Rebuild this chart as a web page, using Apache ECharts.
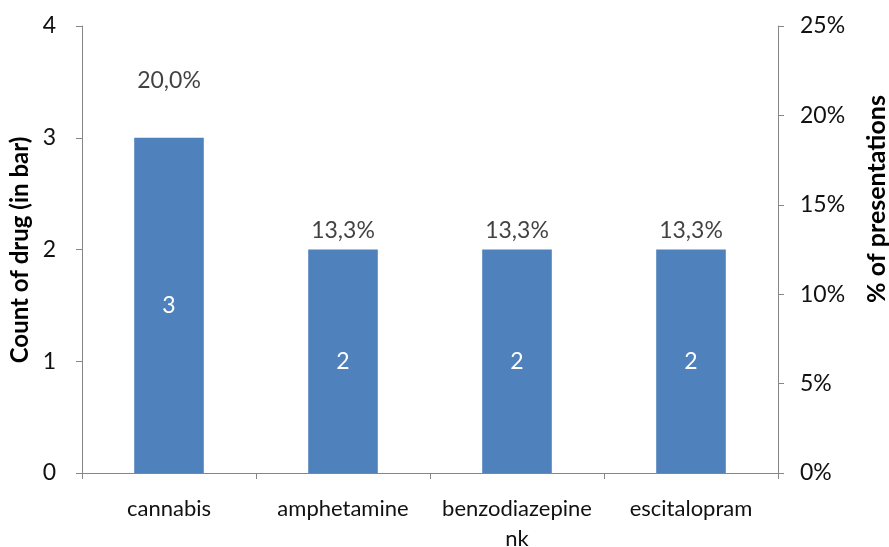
<!DOCTYPE html>
<html>
<head>
<meta charset="utf-8">
<script src="https://cdn.jsdelivr.net/npm/echarts@6/dist/echarts.min.js"></script>
<style>
  html, body { margin: 0; padding: 0; background: #fff; }
  #chart { width: 889px; height: 547px; }
</style>
</head>
<body>
<div id="chart"></div>
<script>
// Drug counts (bars, left axis) and share of presentations (labels, right axis)
const categories = ['cannabis', 'amphetamine', 'benzodiazepine\nnk', 'escitalopram'];
const counts = [3, 2, 2, 2];
const percents = [20.0, 13.3, 13.3, 13.3];
const countTicks = [0, 1, 2, 3, 4];
const percentTicks = [0, 5, 10, 15, 20, 25];

const FONT = 'Lato, "Open Sans", sans-serif';
const AXIS_COLOR = '#868686';
const TEXT_COLOR = '#111';

const chart = echarts.init(document.getElementById('chart'), null, { renderer: 'canvas' });

chart.setOption({
  animation: false,
  textStyle: { fontFamily: FONT },
  grid: { left: 82, right: 111, top: 26, bottom: 74, containLabel: false, outerBoundsMode: 'none' },
  graphic: [
    {
      type: 'text', rotation: Math.PI / 2, x: 20, y: 250,
      style: { text: 'Count of drug (in bar)', font: 'bold 24px ' + FONT, fill: '#000', textAlign: 'center', textVerticalAlign: 'middle' }
    },
    {
      type: 'text', rotation: Math.PI / 2, x: 877, y: 199,
      style: { text: '% of presentations', font: 'bold 25px ' + FONT, fill: '#000', textAlign: 'center', textVerticalAlign: 'middle' }
    }
  ],
  xAxis: {
    type: 'category',
    data: categories,
    axisLine: { lineStyle: { color: AXIS_COLOR } },
    axisTick: { show: true, length: 6, alignWithLabel: false, lineStyle: { color: AXIS_COLOR } },
    axisLabel: { color: TEXT_COLOR, fontSize: 22, margin: 21, lineHeight: 30, fontFamily: FONT, interval: 0 }
  },
  yAxis: [
    {
      type: 'value',
      min: countTicks[0], max: countTicks[countTicks.length - 1], interval: 1,
      axisLine: { show: true, lineStyle: { color: AXIS_COLOR } },
      axisTick: { show: true, length: 6, lineStyle: { color: AXIS_COLOR } },
      splitLine: { show: false },
      axisLabel: { color: TEXT_COLOR, fontSize: 23, margin: 26, fontFamily: FONT }
    },
    {
      type: 'value', position: 'right',
      min: percentTicks[0], max: percentTicks[percentTicks.length - 1], interval: 5,
      axisLine: { show: true, lineStyle: { color: AXIS_COLOR } },
      axisTick: { show: true, length: 6, lineStyle: { color: AXIS_COLOR } },
      splitLine: { show: false },
      axisLabel: { color: TEXT_COLOR, fontSize: 23, margin: 22, fontFamily: FONT, formatter: v => v + '%' }
    }
  ],
  series: [
    {
      type: 'bar',
      yAxisIndex: 0,
      data: counts,
      barCategoryGap: '60%',
      itemStyle: { color: '#4F81BD' },
      label: { show: true, position: 'inside', color: '#fff', fontSize: 23, fontFamily: FONT }
    },
    {
      type: 'scatter',
      yAxisIndex: 1,
      symbolSize: 0,
      silent: true,
      data: percents.map((p, i) => ({
        value: p,
        label: { offset: [0, i === 0 ? -35 : -5] }
      })),
      label: {
        show: true, position: 'inside', color: TEXT_COLOR, fontSize: 23, fontFamily: FONT,
        formatter: p => p.value.toFixed(1).replace('.', ',') + '%'
      }
    }
  ]
});
</script>
</body>
</html>
